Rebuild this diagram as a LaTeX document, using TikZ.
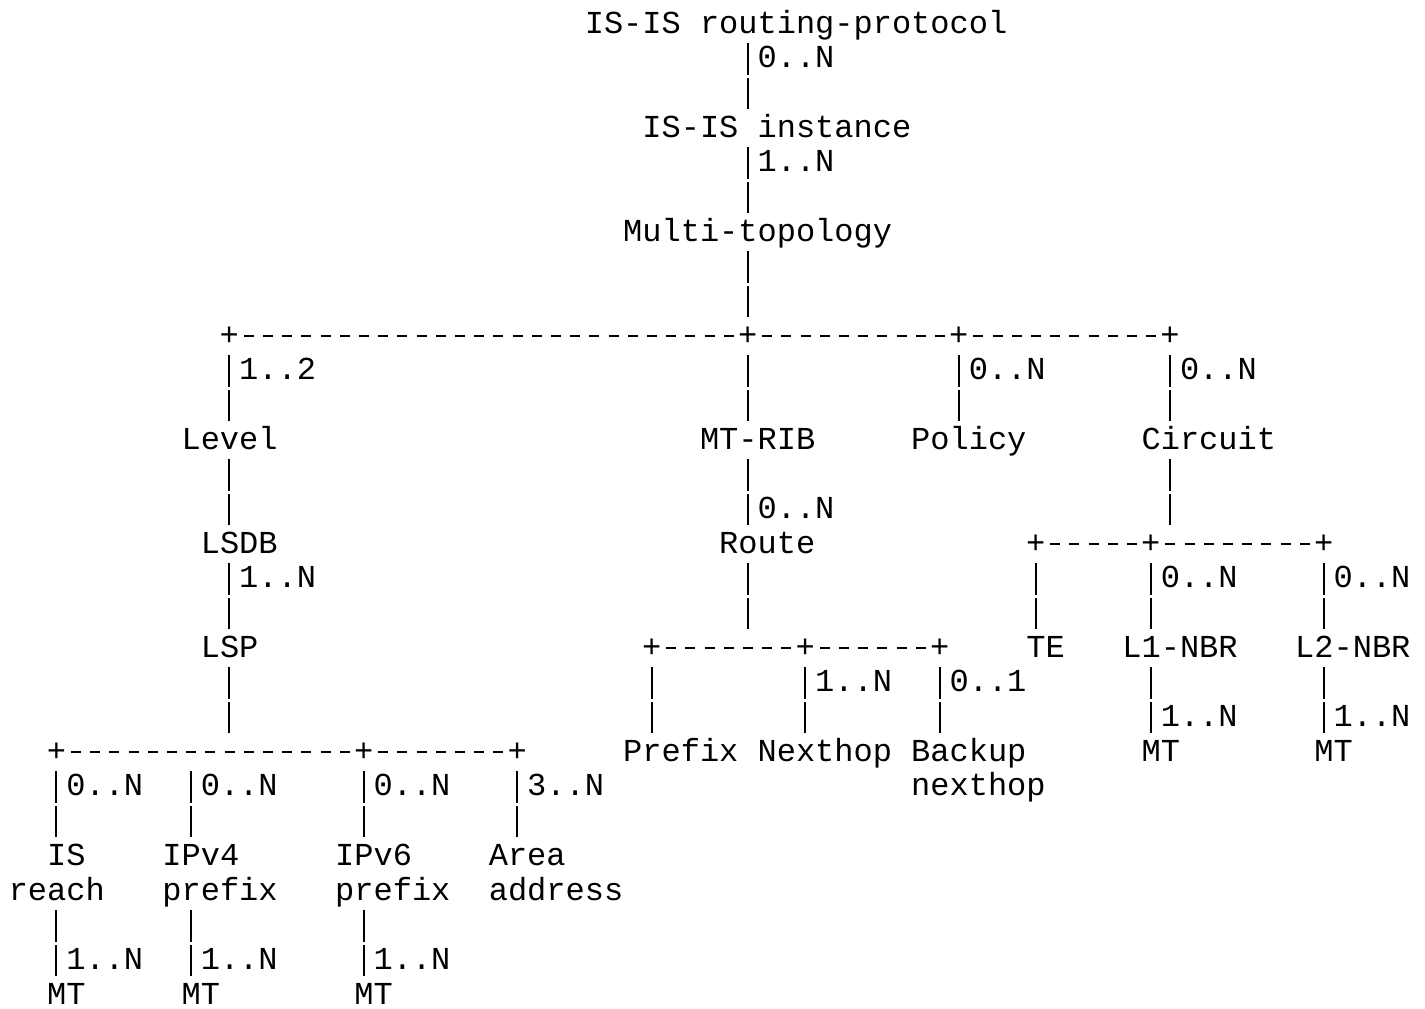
\documentclass[tikz,border=0pt]{standalone}
\usepackage{fontspec}
\newfontfamily\asciifont{Liberation Mono}
\usepackage{tikz}

\begin{document}
\begin{tikzpicture}[
  x=9.6pt, y=-17.34pt,
  txt/.style={inner xsep=0pt, inner ysep=0pt, text height=12.5pt, text depth=3.5pt, font=\asciifont\fontsize{16pt}{17.34pt}\selectfont},
  lbl/.style={txt, anchor=base west, xshift=-4.8pt},
  leaf/.style={lbl, text depth=0pt},
  card/.style={txt, anchor=base west, inner xsep=4.8pt},
  jn/.style={txt, anchor=base},
  pipe/.style={line width=0.9pt, dash pattern=on 16pt off 1.34pt, shorten <=1.34pt, shorten >=1.34pt},
  bus/.style={line width=0.9pt, dash pattern=on 5pt off 4.6pt, dash phase=7.3pt},
]
  \fill[white] (-9pt,16.5pt) rectangle (703.5pt,-487.5pt);
  \useasboundingbox (-9pt,16.5pt) rectangle (703.5pt,-487.5pt);

  \node[lbl] (proto) at (30,0) {IS-IS routing-protocol};
  \node[lbl] (inst) at (33,3) {IS-IS instance};
  \node[lbl] (mtopo) at (32,6) {Multi-topology};
  \node[lbl] (level) at (9,12) {Level};
  \node[lbl] (mtrib) at (36,12) {MT-RIB};
  \node[lbl] (policy) at (47,12) {Policy};
  \node[lbl] (circuit) at (59,12) {Circuit};
  \node[lbl] (lsdb) at (10,15) {LSDB};
  \node[lbl] (route) at (37,15) {Route};
  \node[lbl] (lsp) at (10,18) {LSP};
  \node[lbl] (te) at (53,18) {TE};
  \node[lbl] (lonenbr) at (58,18) {L1-NBR};
  \node[lbl] (ltwonbr) at (67,18) {L2-NBR};
  \node[lbl] (prefix) at (32,21) {Prefix};
  \node[lbl] (nexthop) at (39,21) {Nexthop};
  \node[lbl] (backup) at (47,21) {Backup};
  \node[lbl] (backupb) at (47,22) {nexthop};
  \node[lbl] (lonemt) at (59,21) {MT};
  \node[lbl] (ltwomt) at (68,21) {MT};
  \node[lbl] (isreach) at (2,24) {IS};
  \node[lbl] (isreachb) at (0,25) {reach};
  \node[lbl] (ipvfour) at (8,24) {IPv4};
  \node[lbl] (ipvfourb) at (8,25) {prefix};
  \node[lbl] (ipvsix) at (17,24) {IPv6};
  \node[lbl] (ipvsixb) at (17,25) {prefix};
  \node[lbl] (area) at (25,24) {Area};
  \node[lbl] (areab) at (25,25) {address};
  \node[leaf] (ismt) at (2,28) {MT};
  \node[leaf] (ipvfourmt) at (9,28) {MT};
  \node[leaf] (ipvsixmt) at (18,28) {MT};

  \node[card] (cinst) at (38,1) {0..N};
  \node[card] (ctopo) at (38,4) {1..N};
  \node[card] (clevel) at (11,10) {1..2};
  \node[card] (cpolicy) at (49,10) {0..N};
  \node[card] (ccircuit) at (60,10) {0..N};
  \node[card] (croute) at (38,14) {0..N};
  \node[card] (clsp) at (11,16) {1..N};
  \node[card] (clone) at (59,16) {0..N};
  \node[card] (cltwo) at (68,16) {0..N};
  \node[card] (cnexthop) at (41,19) {1..N};
  \node[card] (cbackup) at (48,19) {0..1};
  \node[card] (clonemt) at (59,20) {1..N};
  \node[card] (cltwomt) at (68,20) {1..N};
  \node[card] (cis) at (2,22) {0..N};
  \node[card] (cipvfour) at (9,22) {0..N};
  \node[card] (cipvsix) at (18,22) {0..N};
  \node[card] (carea) at (26,22) {3..N};
  \node[card] (cismt) at (2,27) {1..N};
  \node[card] (cipvfourmt) at (9,27) {1..N};
  \node[card] (cipvsixmt) at (18,27) {1..N};

  \node[jn] (jlevel) at (11,9) {+};
  \node[jn] (jrib) at (38,9) {+};
  \node[jn] (jpolicy) at (49,9) {+};
  \node[jn] (jcircuit) at (60,9) {+};
  \node[jn] (jte) at (53,15) {+};
  \node[jn] (jlone) at (59,15) {+};
  \node[jn] (jltwo) at (68,15) {+};
  \node[jn] (jprefix) at (33,18) {+};
  \node[jn] (jnexthop) at (41,18) {+};
  \node[jn] (jbackup) at (48,18) {+};
  \node[jn] (jis) at (2,21) {+};
  \node[jn] (jipvsix) at (18,21) {+};
  \node[jn] (jarea) at (26,21) {+};

  \draw[pipe] (proto.south -| cinst.west) -- (inst.north -| cinst.west);
  \draw[pipe] (inst.south -| ctopo.west) -- (mtopo.north -| ctopo.west);
  \draw[pipe] (mtopo.south -| jrib) -- (jrib.north);
  \draw[bus] (jlevel.east) -- (jrib.west);
  \draw[bus] (jrib.east) -- (jpolicy.west);
  \draw[bus] (jpolicy.east) -- (jcircuit.west);
  \draw[pipe] (jlevel.south) -- (jlevel.south |- level.north);
  \draw[pipe] (jrib.south) -- (jrib.south |- mtrib.north);
  \draw[pipe] (jpolicy.south) -- (jpolicy.south |- policy.north);
  \draw[pipe] (jcircuit.south) -- (jcircuit.south |- circuit.north);
  \draw[pipe] (level.south -| jlevel) -- (lsdb.north -| jlevel);
  \draw[pipe] (mtrib.south -| croute.west) -- (route.north -| croute.west);
  \draw[pipe] (circuit.south -| ccircuit.west) -- (jlone.north -| ccircuit.west);
  \draw[bus] (jte.east) -- (jlone.west);
  \draw[bus] (jlone.east) -- (jltwo.west);
  \draw[pipe] (jte.south) -- (jte.south |- te.north);
  \draw[pipe] (jlone.south) -- (jlone.south |- lonenbr.north);
  \draw[pipe] (jltwo.south) -- (jltwo.south |- ltwonbr.north);
  \draw[pipe] (lsdb.south -| clsp.west) -- (lsp.north -| clsp.west);
  \draw[pipe] (route.south -| croute.west) -- (jnexthop.north -| croute.west);
  \draw[bus] (jprefix.east) -- (jnexthop.west);
  \draw[bus] (jnexthop.east) -- (jbackup.west);
  \draw[pipe] (jprefix.south) -- (jprefix.south |- prefix.north);
  \draw[pipe] (jnexthop.south) -- (jnexthop.south |- nexthop.north);
  \draw[pipe] (jbackup.south) -- (jbackup.south |- backup.north);
  \draw[pipe] (lonenbr.south -| clonemt.west) -- (lonemt.north -| clonemt.west);
  \draw[pipe] (ltwonbr.south -| cltwomt.west) -- (ltwomt.north -| cltwomt.west);
  \draw[pipe] (lsp.south -| clsp.west) -- (jis.north -| clsp.west);
  \draw[bus] (jis.east) -- (jipvsix.west);
  \draw[bus] (jipvsix.east) -- (jarea.west);
  \draw[pipe] (jis.south) -- (jis.south |- isreach.north);
  \draw[pipe] (jis.south -| cipvfour.west) -- (ipvfour.north -| cipvfour.west);
  \draw[pipe] (jipvsix.south) -- (jipvsix.south |- ipvsix.north);
  \draw[pipe] (jarea.south) -- (jarea.south |- area.north);
  \draw[pipe] (isreachb.south -| cismt.west) -- (ismt.north -| cismt.west);
  \draw[pipe] (ipvfourb.south -| cipvfourmt.west) -- (ipvfourmt.north -| cipvfourmt.west);
  \draw[pipe] (ipvsixb.south -| cipvsixmt.west) -- (ipvsixmt.north -| cipvsixmt.west);
\end{tikzpicture}
\end{document}
